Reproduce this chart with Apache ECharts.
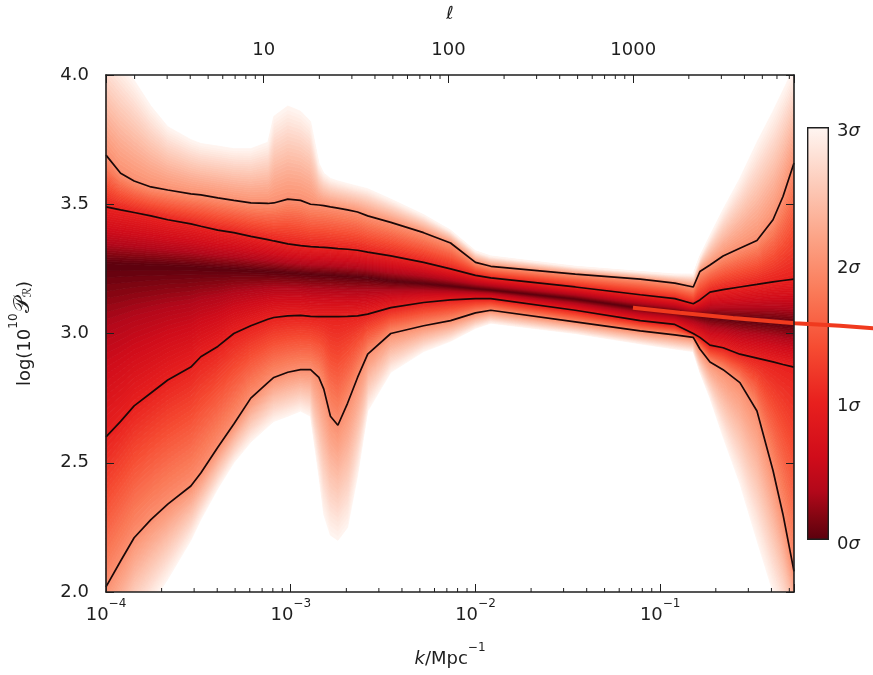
<!DOCTYPE html>
<html>
<head>
<meta charset="utf-8">
<title>Primordial power spectrum reconstruction</title>
<script src="https://cdn.jsdelivr.net/npm/echarts@6.0.0/dist/echarts.min.js"></script>
<style>
html, body { margin: 0; padding: 0; background: #fff; }
#chart { width: 873px; height: 675px; }
</style>
</head>
<body>
<div id="chart"></div>
<script>
// k (Mpc^-1) where the contour curves were read
var kValues = [1.00e-4, 1.20e-4, 1.42e-4, 1.75e-4, 2.16e-4, 2.88e-4, 3.26e-4, 4.03e-4, 4.92e-4, 6.08e-4,
    7.52e-4, 8.10e-4, 9.64e-4, 1.13e-3, 1.28e-3, 1.42e-3, 1.51e-3, 1.64e-3, 1.80e-3, 2.03e-3,
    2.30e-3, 2.61e-3, 3.48e-3, 5.24e-3, 7.33e-3, 1.00e-2, 1.21e-2, 3.47e-2, 7.80e-2, 0.120,
    0.151, 0.164, 0.186, 0.219, 0.270, 0.334, 0.408, 0.462, 0.530];
// darkest ridge (0 sigma)
var center = [3.270, 3.268, 3.266, 3.264, 3.262, 3.258, 3.256, 3.252, 3.249, 3.245,
    3.241, 3.240, 3.236, 3.233, 3.230, 3.229, 3.228, 3.227, 3.225, 3.222,
    3.220, 3.217, 3.205, 3.195, 3.185, 3.175, 3.170, 3.135, 3.100, 3.085,
    3.075, 3.070, 3.065, 3.060, 3.055, 3.050, 3.045, 3.040, 3.035];
var upper1 = [3.490, 3.478, 3.468, 3.455, 3.440, 3.424, 3.415, 3.400, 3.390, 3.376,
    3.363, 3.358, 3.347, 3.340, 3.336, 3.334, 3.333, 3.331, 3.328, 3.326,
    3.322, 3.315, 3.300, 3.275, 3.250, 3.225, 3.215, 3.180, 3.150, 3.135,
    3.115, 3.130, 3.160, 3.170, 3.180, 3.190, 3.200, 3.205, 3.210];
var lower1 = [2.600, 2.660, 2.720, 2.770, 2.820, 2.870, 2.910, 2.950, 3.000, 3.030,
    3.055, 3.062, 3.068, 3.070, 3.066, 3.065, 3.065, 3.065, 3.065, 3.066,
    3.068, 3.075, 3.100, 3.120, 3.130, 3.135, 3.135, 3.090, 3.050, 3.035,
    3.000, 2.985, 2.955, 2.945, 2.920, 2.905, 2.890, 2.880, 2.870];
var upper2 = [3.690, 3.620, 3.590, 3.567, 3.555, 3.540, 3.536, 3.525, 3.515, 3.505,
    3.503, 3.505, 3.520, 3.515, 3.500, 3.497, 3.495, 3.490, 3.485, 3.478,
    3.470, 3.455, 3.430, 3.390, 3.350, 3.275, 3.260, 3.230, 3.210, 3.195,
    3.180, 3.240, 3.265, 3.300, 3.330, 3.360, 3.440, 3.530, 3.660];
var lower2 = [2.020, 2.120, 2.210, 2.280, 2.340, 2.410, 2.460, 2.560, 2.650, 2.750,
    2.810, 2.830, 2.850, 2.860, 2.860, 2.830, 2.785, 2.680, 2.645, 2.730,
    2.830, 2.920, 3.000, 3.030, 3.050, 3.080, 3.090, 3.045, 3.010, 2.995,
    2.985, 2.940, 2.890, 2.860, 2.810, 2.700, 2.470, 2.300, 2.080];
// where the shading has faded to white (about 3 sigma)
var upper3 = [4.120, 4.050, 3.980, 3.880, 3.800, 3.750, 3.735, 3.725, 3.715, 3.715,
    3.740, 3.840, 3.880, 3.860, 3.820, 3.660, 3.620, 3.600, 3.590, 3.580,
    3.570, 3.560, 3.520, 3.460, 3.400, 3.320, 3.300, 3.260, 3.240, 3.230,
    3.230, 3.300, 3.380, 3.480, 3.600, 3.740, 3.860, 3.940, 4.030];
var lower3 = [1.600, 1.720, 1.850, 1.950, 2.050, 2.200, 2.280, 2.400, 2.500, 2.580,
    2.640, 2.660, 2.680, 2.700, 2.680, 2.450, 2.300, 2.220, 2.200, 2.250,
    2.450, 2.700, 2.850, 2.930, 2.970, 3.020, 3.040, 3.000, 2.960, 2.940,
    2.930, 2.850, 2.750, 2.600, 2.420, 2.200, 2.000, 1.900, 1.800];

// red overplotted line, runs past the frame to the page edge
var redK = [0.0714, 0.128, 0.248, 0.537, 0.94, 1.42];
var redVal = [3.100, 3.080, 3.060, 3.040, 3.030, 3.020];

var yTicks = [2.0, 2.5, 3.0, 3.5, 4.0];
var sigmaTicks = [0, 1, 2, 3];
var ellPerK = 14000;
var minorSteps = [2, 3, 4, 5, 6, 7, 8, 9];
var kDecades = [-4, -3, -2, -1];
var ellDecades = [0, 1, 2, 3];

var kMin = 1e-4, kMax = 0.53;
var plotLeft = 105, plotTop = 75, plotW = 689, plotH = 517, pageW = 873;
// same k scale carried on to the page edge, for the red line
var kFar = kMin * Math.pow(kMax / kMin, (pageW - plotLeft) / plotW);
var font = 'DejaVu Sans';
var ink = '#1e1e1e';

// reversed "Reds" map, 0 sigma dark to 3 sigma white
var cmap = [
    [0.0, '#5a000d'], [0.15, '#7e0511'], [0.35, '#b2081a'], [0.6, '#d00c1a'],
    [1.0, '#e8201e'], [1.4, '#f64c32'], [1.8, '#fa7a58'], [2.2, '#fca487'],
    [2.6, '#fdcdbc'], [3.0, '#fff6f2']
];

function hexRgb(h) {
    return [parseInt(h.substr(1, 2), 16), parseInt(h.substr(3, 2), 16), parseInt(h.substr(5, 2), 16)];
}
function sigmaColor(s) {
    s = Math.max(0, Math.min(3, s));
    for (var i = 1; i < cmap.length; i++) {
        if (s <= cmap[i][0]) {
            var a = hexRgb(cmap[i - 1][1]), b = hexRgb(cmap[i][1]);
            var t = (s - cmap[i - 1][0]) / (cmap[i][0] - cmap[i - 1][0]);
            return 'rgb(' + [0, 1, 2].map(function (c) { return Math.round(a[c] + t * (b[c] - a[c])); }).join(',') + ')';
        }
    }
    return cmap[cmap.length - 1][1];
}

function sigmaCurve(s) {
    var a = Math.abs(s);
    var set = s >= 0 ? [center, upper1, upper2, upper3] : [center, lower1, lower2, lower3];
    var j = Math.min(2, Math.floor(a));
    var t = a - j;
    return kValues.map(function (k, i) { return set[j][i] + t * (set[j + 1][i] - set[j][i]); });
}

var bandStep = 0.04;
var bandData = [];
for (var b = 0; b < 150; b++) {
    bandData.push([kValues[0], 3, -3 + b * bandStep]);
}

function renderBand(params, api) {
    var lo = api.value(2), hi = lo + bandStep;
    var ya = sigmaCurve(lo), yb = sigmaCurve(hi);
    var pts = [], i;
    for (i = 0; i < kValues.length; i++) pts.push(api.coord([kValues[i], ya[i]]));
    for (i = kValues.length - 1; i >= 0; i--) pts.push(api.coord([kValues[i], yb[i]]));
    var col = sigmaColor(Math.abs(lo + bandStep / 2));
    return {type: 'polygon', shape: {points: pts}, style: {fill: col, stroke: col, lineWidth: 0.8}};
}

// minor ticks: bottom in k, top in ell
var tickData = [];
kDecades.forEach(function (d) {
    minorSteps.forEach(function (m) {
        var k = m * Math.pow(10, d);
        if (k < kMax) tickData.push([k, 0]);
    });
});
ellDecades.forEach(function (d) {
    minorSteps.forEach(function (m) {
        var k = m * Math.pow(10, d) / ellPerK;
        if (k > kMin && k < kMax) tickData.push([k, 1]);
    });
});

function renderTick(params, api) {
    var top = api.value(1) === 1;
    var p = api.coord([api.value(0), top ? 4 : 2]);
    return {
        type: 'line',
        shape: {x1: p[0], y1: p[1], x2: p[0], y2: top ? p[1] + 4 : p[1] - 4},
        style: {stroke: ink, lineWidth: 1}
    };
}

function isPow10(v) {
    var e = Math.log(v) / Math.LN10;
    return Math.abs(e - Math.round(e)) < 1e-6;
}

function contour(data) {
    return {
        type: 'line', xAxisIndex: 0, yAxisIndex: 0, z: 3, silent: true,
        symbol: 'none', data: kValues.map(function (k, i) { return [k, data[i]]; }),
        lineStyle: {color: '#1a0808', width: 1.7}
    };
}

var chart = echarts.init(document.getElementById('chart'));

var axisLine = {show: true, lineStyle: {color: ink, width: 1.6}};
var rich = {
    n: {fontFamily: font, fontSize: 18, color: ink, lineHeight: 26, verticalAlign: 'bottom'},
    i: {fontFamily: font, fontSize: 18, color: ink, fontStyle: 'italic', lineHeight: 26, verticalAlign: 'bottom'},
    p: {fontFamily: font, fontSize: 22, color: ink, lineHeight: 26, verticalAlign: 'bottom'},
    s: {fontFamily: font, fontSize: 12, color: ink, lineHeight: 26, verticalAlign: 'top'},
    b: {fontFamily: font, fontSize: 12, color: ink, lineHeight: 26, verticalAlign: 'bottom'}
};

var option = {
    animation: false,
    backgroundColor: '#ffffff',
    grid: [
        {left: plotLeft, top: plotTop, width: plotW, height: plotH},
        {left: 807, top: 127, width: 22, height: 413},
        {left: plotLeft, top: plotTop, width: pageW - plotLeft, height: plotH}
    ],
    xAxis: [
        {
            type: 'log', gridIndex: 0, logBase: 10, min: kMin, max: kMax, position: 'bottom', z: 5,
            axisLine: axisLine, splitLine: {show: false},
            axisTick: {inside: true, length: 8, lineStyle: {color: ink, width: 1}},
            axisLabel: {
                margin: 6, rich: rich,
                formatter: function (v) {
                    if (!isPow10(v)) return '';
                    var e = Math.round(Math.log(v) / Math.LN10);
                    return '{n|10}{s|\u2212' + (-e) + '}';
                }
            },
            name: '{i|k}{n|/Mpc}{s|\u22121}', nameLocation: 'middle', nameGap: 50,
            nameTextStyle: {rich: rich}
        },
        {
            type: 'log', gridIndex: 0, logBase: 10, min: kMin * ellPerK, max: kMax * ellPerK, position: 'top', z: 5,
            axisLine: axisLine, splitLine: {show: false},
            axisTick: {inside: true, length: 8, lineStyle: {color: ink, width: 1}},
            axisLabel: {
                margin: 16, fontFamily: font, fontSize: 18, color: ink,
                formatter: function (v) { return isPow10(v) ? String(Math.round(v)) : ''; }
            },
            name: '\u2113', nameLocation: 'middle', nameGap: 52,
            nameTextStyle: {fontFamily: font, fontSize: 18, fontStyle: 'italic', color: ink}
        },
        {type: 'category', gridIndex: 1, data: [''], show: false},
        {type: 'log', gridIndex: 2, logBase: 10, min: kMin, max: kFar, show: false}
    ],
    yAxis: [
        {
            type: 'value', gridIndex: 0, min: 2, max: 4, interval: 0.5, z: 5,
            axisLine: axisLine, splitLine: {show: false},
            axisTick: {inside: true, length: 8, lineStyle: {color: ink, width: 1}},
            axisLabel: {
                margin: 17, fontFamily: font, fontSize: 18, color: ink,
                formatter: function (v) { return yTicks.indexOf(v) >= 0 ? v.toFixed(1) : ''; }
            },
            name: '{n|log(10}{s|10}{p|\uD835\uDCAB}{b|\u211B}{n|)}', nameLocation: 'middle', nameGap: 72,
            nameRotate: 90, nameTextStyle: {rich: rich}
        },
        {
            type: 'value', gridIndex: 0, min: 2, max: 4, interval: 0.5, position: 'right', z: 5,
            axisLine: axisLine, splitLine: {show: false},
            axisTick: {inside: true, length: 8, lineStyle: {color: ink, width: 1}},
            axisLabel: {show: false}
        },
        {
            type: 'value', gridIndex: 1, min: 0, max: 3, interval: 1, position: 'right', z: 5,
            axisLine: {show: false}, splitLine: {show: false},
            axisTick: {inside: true, length: 6, lineStyle: {color: ink, width: 1}},
            axisLabel: {
                margin: 8, rich: rich,
                formatter: function (v) { return sigmaTicks.indexOf(v) >= 0 ? '{n|' + v + '}{i|\u03C3}' : ''; }
            }
        },
        {type: 'value', gridIndex: 2, min: 2, max: 4, show: false}
    ],
    series: [
        {
            type: 'custom', xAxisIndex: 0, yAxisIndex: 0, z: 1, silent: true, clip: true,
            renderItem: renderBand, data: bandData
        },
        contour(upper2),
        contour(upper1),
        contour(lower1),
        contour(lower2),
        {
            type: 'line', xAxisIndex: 3, yAxisIndex: 3, z: 4, silent: true, clip: false,
            symbol: 'none', data: redK.map(function (k, i) { return [k, redVal[i]]; }),
            lineStyle: {color: '#f03a1e', width: 4}
        },
        {
            type: 'custom', xAxisIndex: 0, yAxisIndex: 0, z: 6, silent: true, clip: false,
            renderItem: renderTick, data: tickData
        },
        {
            type: 'bar', xAxisIndex: 2, yAxisIndex: 2, barWidth: '100%', silent: true, z: 2,
            data: [3],
            itemStyle: {
                color: new echarts.graphic.LinearGradient(0, 1, 0, 0, cmap.map(function (c) {
                    return {offset: c[0] / 3, color: c[1]};
                })),
                borderColor: ink, borderWidth: 1.4
            }
        }
    ]
};

chart.setOption(option);
</script>
</body>
</html>
